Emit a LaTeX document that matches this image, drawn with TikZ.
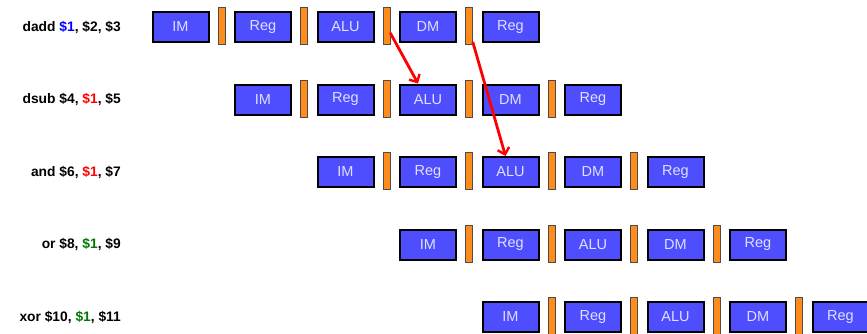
\documentclass[tikz,border=0pt]{standalone}
\usepackage{fontspec}
\setmainfont{Liberation Sans}
\usepackage{tikz}
\usetikzlibrary{positioning,arrows.meta,calc}
\usepackage{xcolor}

\definecolor{stageblue}{RGB}{78,78,255}
\definecolor{latchorange}{RGB}{255,140,26}
\definecolor{depgreen}{RGB}{0,120,0}

\begin{document}
\begin{tikzpicture}[
    x=1pt, y=-1pt,
    stagebox/.style={draw=black, line width=2pt, fill=stageblue, text=white!88!blue, minimum width=56pt, minimum height=30pt, inner sep=0pt, font=\fontsize{14.5}{16}\selectfont},
    latch/.style={draw=black!70, line width=0.6pt, fill=latchorange, minimum width=7pt, minimum height=37pt, inner sep=0pt},
    instr/.style={anchor=east, inner sep=0pt, font=\bfseries\fontsize{13.8}{16}\selectfont},
    hazard/.style={draw=red, line width=2.8pt, -{Straight Barb[length=6pt, width=12pt, line width=2.4pt]}},
]
\useasboundingbox (0,0) rectangle (867,333);

% instruction labels
\node[instr] (lab-0) at (121,27)    {dadd \textcolor{blue}{\$1}, \$2, \$3};
\node[instr] (lab-1) at (121,99.5)  {dsub \$4, \textcolor{red}{\$1}, \$5};
\node[instr] (lab-2) at (121,172)   {and \$6, \textcolor{red}{\$1}, \$7};
\node[instr] (lab-3) at (121,244.5) {or \$8, \textcolor{depgreen}{\$1}, \$9};
\node[instr] (lab-4) at (121,317)   {xor \$10, \textcolor{depgreen}{\$1}, \$11};

% pipeline stages, one row per instruction
\foreach \r in {0,...,4} {
    \foreach \name [count=\s from 0] in {IM,Reg,ALU,DM,Reg} {
        \node[stagebox] (s-\r-\s) at ({180.5+82.5*(\r+\s)},{27+72.5*\r}) {\name};
    }
    \foreach \s in {1,...,4} {
        \node[latch] (l-\r-\s) at ({180.5+82.5*(\r+\s-1)+41},{26+72.5*\r}) {};
    }
}

% forwarding of $1
\draw[hazard] ([yshift=-7pt]l-0-3.east) -- ([xshift=-10pt]s-1-2.north);
\draw[hazard] ([yshift=-16pt]l-0-4.east) -- ([xshift=-5pt]s-2-2.north);
\end{tikzpicture}
\end{document}
